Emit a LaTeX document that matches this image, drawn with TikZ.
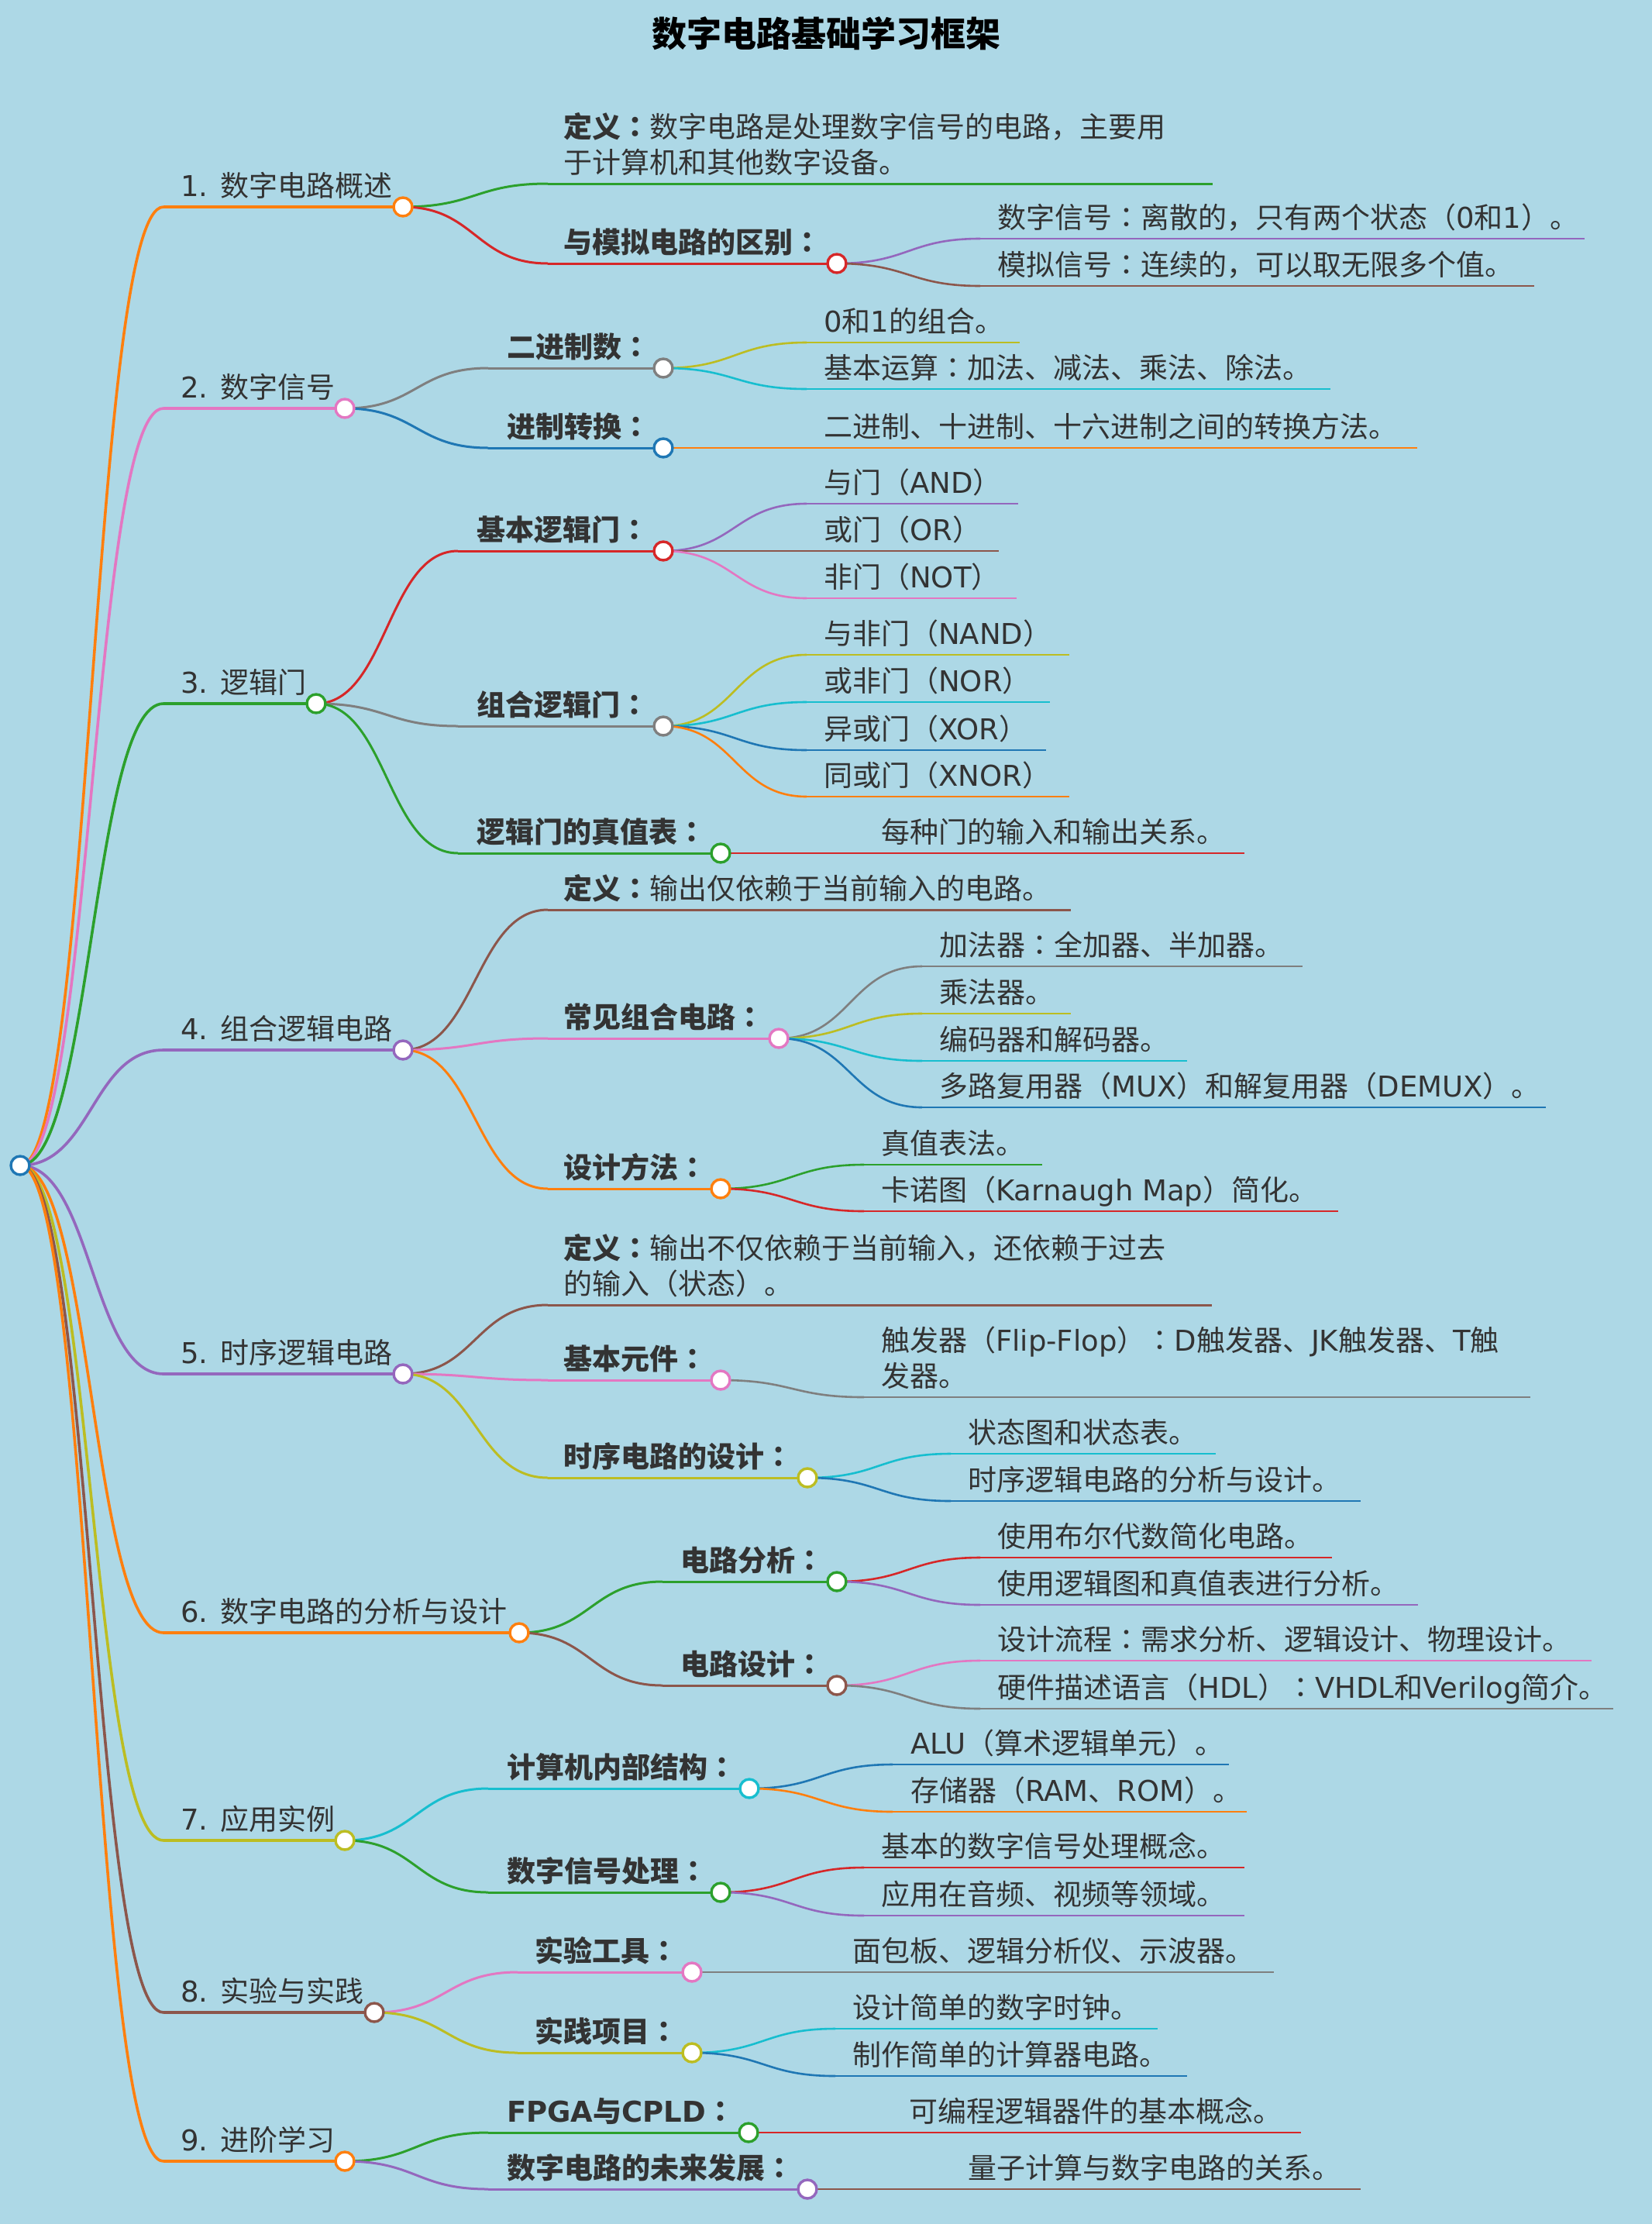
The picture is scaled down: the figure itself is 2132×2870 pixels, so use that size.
\documentclass[tikz,border=0pt]{standalone}
\usepackage{fontspec}
\setmainfont{Noto Sans CJK SC}
\newfontfamily\latf{DejaVu Sans}
\newfontfamily\jpf{Noto Sans CJK JP}
\newcommand\la[1]{{\latf #1}}
\newcommand\co{{\jpf ：}}
\newcommand\fs{\fontsize{37}{46}\selectfont}
\usetikzlibrary{calc}
\definecolor{bgc}{HTML}{ADD8E6}
\definecolor{tc}{HTML}{333333}
\definecolor{tblue}{HTML}{1F77B4}
\definecolor{torange}{HTML}{FF7F0E}
\definecolor{tgreen}{HTML}{2CA02C}
\definecolor{tred}{HTML}{D62728}
\definecolor{tpurple}{HTML}{9467BD}
\definecolor{tbrown}{HTML}{8C564B}
\definecolor{tpink}{HTML}{E377C2}
\definecolor{tgray}{HTML}{7F7F7F}
\definecolor{tolive}{HTML}{BCBD22}
\definecolor{tcyan}{HTML}{17BECF}
\newcommand\sig[3]{\draw[#1] let \p1=(#2), \p2=(#3) in (\p1) .. controls ({0.5*\x1+0.5*\x2},\y1) and ({0.5*\x1+0.5*\x2},\y2) .. (\p2);}
\newcommand\lvl[6]{\coordinate (#3s) at (#4,#5); \coordinate (#3) at (#6,#5); \sig{#1}{#2}{#3s} \draw[#1] (#3s) -- (#3);}
\newcommand\dotat[2]{\node[dot=#2] (#1d) at (#1) {};}
\begin{document}
\begin{tikzpicture}[x=1pt,y=-1pt,
  l1/.style={draw=#1, line width=3.6pt},
  l2/.style={draw=#1, line width=3.0pt},
  l3/.style={draw=#1, line width=2.6pt},
  dot/.style={circle, draw=#1, fill=white, line width=3.4pt, minimum size=24pt, inner sep=0pt},
  txt/.style={text=tc, inner sep=0pt, font=\fs, anchor=base west},
  btxt/.style={text=tc, inner sep=0pt, font=\fs\bfseries, anchor=base west}]
\fill[bgc] (0,0) rectangle (2132,2870);
\useasboundingbox (0,0) rectangle (2132,2870);
\node[font=\bfseries\fontsize{45}{54}\selectfont, text=black, anchor=base, inner sep=0pt] (title) at (1066,60) {数字电路基础学习框架};
\coordinate (R) at (26,1504);
% level 1
\lvl{l1=torange}{R}{n1}{211}{267}{520}
\lvl{l1=tpink}{R}{n2}{211}{527}{445}
\lvl{l1=tgreen}{R}{n3}{211}{908}{408}
\lvl{l1=tpurple}{R}{n4}{211}{1355}{520}
\lvl{l1=tpurple}{R}{n5}{211}{1773}{520}
\lvl{l1=torange}{R}{n6}{211}{2107}{670}
\lvl{l1=tolive}{R}{n7}{211}{2375}{445}
\lvl{l1=tbrown}{R}{n8}{211}{2597}{483}
\lvl{l1=torange}{R}{n9}{211}{2789}{445}
% branch 1
\lvl{l2=tgreen}{n1}{n1a}{707}{237}{1565}
\lvl{l2=tred}{n1}{n1b}{707}{340}{1080}
\lvl{l3=tpurple}{n1b}{n1ba}{1265}{308}{2045}
\lvl{l3=tbrown}{n1b}{n1bb}{1265}{369}{1980}
% branch 2
\lvl{l2=tgray}{n2}{n2a}{630}{475}{856}
\lvl{l3=tolive}{n2a}{n2aa}{1041}{442}{1316}
\lvl{l3=tcyan}{n2a}{n2ab}{1041}{502}{1717}
\lvl{l2=tblue}{n2}{n2b}{630}{578}{856}
\lvl{l3=torange}{n2b}{n2ba}{1041}{578}{1829}
% branch 3
\lvl{l2=tred}{n3}{n3a}{591}{711}{856}
\lvl{l3=tpurple}{n3a}{n3aa}{1041}{650}{1314}
\lvl{l3=tbrown}{n3a}{n3ab}{1041}{711}{1289}
\lvl{l3=tpink}{n3a}{n3ac}{1041}{772}{1312}
\lvl{l2=tgray}{n3}{n3b}{591}{937}{856}
\lvl{l3=tolive}{n3b}{n3ba}{1041}{845}{1380}
\lvl{l3=tcyan}{n3b}{n3bb}{1041}{906}{1355}
\lvl{l3=tblue}{n3b}{n3bc}{1041}{968}{1350}
\lvl{l3=torange}{n3b}{n3bd}{1041}{1028}{1380}
\lvl{l2=tgreen}{n3}{n3c}{591}{1101}{930}
\lvl{l3=tred}{n3c}{n3ca}{1115}{1101}{1606}
% branch 4
\lvl{l2=tbrown}{n4}{n4a}{707}{1174}{1382}
\lvl{l2=tpink}{n4}{n4b}{707}{1340}{1005}
\lvl{l3=tgray}{n4b}{n4ba}{1190}{1247}{1681}
\lvl{l3=tolive}{n4b}{n4bb}{1190}{1308}{1382}
\lvl{l3=tcyan}{n4b}{n4bc}{1190}{1369}{1532}
\lvl{l3=tblue}{n4b}{n4bd}{1190}{1429}{1995}
\lvl{l2=torange}{n4}{n4c}{707}{1534}{930}
\lvl{l3=tgreen}{n4c}{n4ca}{1115}{1503}{1345}
\lvl{l3=tred}{n4c}{n4cb}{1115}{1563}{1727}
% branch 5
\lvl{l2=tbrown}{n5}{n5a}{707}{1684}{1564}
\lvl{l2=tpink}{n5}{n5b}{707}{1781}{930}
\lvl{l3=tgray}{n5b}{n5ba}{1115}{1803}{1975}
\lvl{l2=tolive}{n5}{n5c}{707}{1907}{1042}
\lvl{l3=tcyan}{n5c}{n5ca}{1227}{1876}{1569}
\lvl{l3=tblue}{n5c}{n5cb}{1227}{1937}{1756}
% branch 6
\lvl{l2=tgreen}{n6}{n6a}{855}{2041}{1080}
\lvl{l3=tred}{n6a}{n6aa}{1265}{2010}{1719}
\lvl{l3=tpurple}{n6a}{n6ab}{1265}{2071}{1830}
\lvl{l2=tbrown}{n6}{n6b}{855}{2175}{1080}
\lvl{l3=tpink}{n6b}{n6ba}{1265}{2143}{2054}
\lvl{l3=tgray}{n6b}{n6bb}{1265}{2205}{2082}
% branch 7
\lvl{l2=tcyan}{n7}{n7a}{630}{2308}{967}
\lvl{l3=tblue}{n7a}{n7aa}{1152}{2277}{1586}
\lvl{l3=torange}{n7a}{n7ab}{1152}{2338}{1609}
\lvl{l2=tgreen}{n7}{n7b}{630}{2442}{930}
\lvl{l3=tred}{n7b}{n7ba}{1115}{2410}{1606}
\lvl{l3=tpurple}{n7b}{n7bb}{1115}{2472}{1606}
% branch 8
\lvl{l2=tpink}{n8}{n8a}{668}{2545}{893}
\lvl{l3=tgray}{n8a}{n8aa}{1078}{2545}{1644}
\lvl{l2=tolive}{n8}{n8b}{668}{2649}{893}
\lvl{l3=tcyan}{n8b}{n8ba}{1078}{2618}{1494}
\lvl{l3=tblue}{n8b}{n8bb}{1078}{2679}{1532}
% branch 9
\lvl{l2=tgreen}{n9}{n9a}{630}{2752}{966}
\lvl{l3=tred}{n9a}{n9aa}{1151}{2752}{1679}
\lvl{l2=tpurple}{n9}{n9b}{630}{2825}{1042}
\lvl{l3=tbrown}{n9b}{n9ba}{1227}{2825}{1756}
% circles
\dotat{R}{tblue}
\dotat{n1}{torange}\dotat{n2}{tpink}\dotat{n3}{tgreen}\dotat{n4}{tpurple}\dotat{n5}{tpurple}
\dotat{n6}{torange}\dotat{n7}{tolive}\dotat{n8}{tbrown}\dotat{n9}{torange}
\dotat{n1b}{tred}\dotat{n2a}{tgray}\dotat{n2b}{tblue}
\dotat{n3a}{tred}\dotat{n3b}{tgray}\dotat{n3c}{tgreen}
\dotat{n4b}{tpink}\dotat{n4c}{torange}
\dotat{n5b}{tpink}\dotat{n5c}{tolive}
\dotat{n6a}{tgreen}\dotat{n6b}{tbrown}
\dotat{n7a}{tcyan}\dotat{n7b}{tgreen}
\dotat{n8a}{tpink}\dotat{n8b}{tolive}
\dotat{n9a}{tgreen}\dotat{n9b}{tpurple}
% level 1 texts
\node[txt] (t1) at (233,253) {\la{1. }数字电路概述};
\node[txt] (t2) at (233,513) {\la{2. }数字信号};
\node[txt] (t3) at (233,894) {\la{3. }逻辑门};
\node[txt] (t4) at (233,1341) {\la{4. }组合逻辑电路};
\node[txt] (t5) at (233,1759) {\la{5. }时序逻辑电路};
\node[txt] (t6) at (233,2093) {\la{6. }数字电路的分析与设计};
\node[txt] (t7) at (233,2361) {\la{7. }应用实例};
\node[txt] (t8) at (233,2583) {\la{8. }实验与实践};
\node[txt] (t9) at (233,2775) {\la{9. }进阶学习};
% branch 1 texts
\node[txt] (t1a) at (727,223) {\vbox{\hbox{{\bfseries 定义\co{}}数字电路是处理数字信号的电路，主要用}\hbox{于计算机和其他数字设备。}}};
\node[btxt] (t1b) at (727,326) {与模拟电路的区别\co{}};
\node[txt] (t1ba) at (1287,294) {数字信号\co{}离散的，只有两个状态（\la{0}和\la{1}）。};
\node[txt] (t1bb) at (1287,355) {模拟信号\co{}连续的，可以取无限多个值。};
% branch 2 texts
\node[btxt] (t2a) at (654,461) {二进制数\co{}};
\node[txt] (t2aa) at (1063,428) {\la{0}和\la{1}的组合。};
\node[txt] (t2ab) at (1063,488) {基本运算\co{}加法、减法、乘法、除法。};
\node[btxt] (t2b) at (654,564) {进制转换\co{}};
\node[txt] (t2ba) at (1063,564) {二进制、十进制、十六进制之间的转换方法。};
% branch 3 texts
\node[btxt] (t3a) at (615,697) {基本逻辑门\co{}};
\node[txt] (t3aa) at (1063,636) {与门（\la{AND}）};
\node[txt] (t3ab) at (1063,697) {或门（\la{OR}）};
\node[txt] (t3ac) at (1063,758) {非门（\la{NOT}）};
\node[btxt] (t3b) at (615,923) {组合逻辑门\co{}};
\node[txt] (t3ba) at (1063,831) {与非门（\la{NAND}）};
\node[txt] (t3bb) at (1063,892) {或非门（\la{NOR}）};
\node[txt] (t3bc) at (1063,954) {异或门（\la{XOR}）};
\node[txt] (t3bd) at (1063,1014) {同或门（\la{XNOR}）};
\node[btxt] (t3c) at (615,1087) {逻辑门的真值表\co{}};
\node[txt] (t3ca) at (1137,1087) {每种门的输入和输出关系。};
% branch 4 texts
\node[txt] (t4a) at (727,1160) {{\bfseries 定义\co{}}输出仅依赖于当前输入的电路。};
\node[btxt] (t4b) at (727,1326) {常见组合电路\co{}};
\node[txt] (t4ba) at (1212,1233) {加法器\co{}全加器、半加器。};
\node[txt] (t4bb) at (1212,1294) {乘法器。};
\node[txt] (t4bc) at (1212,1355) {编码器和解码器。};
\node[txt] (t4bd) at (1212,1415) {多路复用器（\la{MUX}）和解复用器（\la{DEMUX}）。};
\node[btxt] (t4c) at (727,1520) {设计方法\co{}};
\node[txt] (t4ca) at (1137,1489) {真值表法。};
\node[txt] (t4cb) at (1137,1549) {卡诺图（\la{Karnaugh Map}）简化。};
% branch 5 texts
\node[txt] (t5a) at (727,1670) {\vbox{\hbox{{\bfseries 定义\co{}}输出不仅依赖于当前输入，还依赖于过去}\hbox{的输入（状态）。}}};
\node[btxt] (t5b) at (727,1767) {基本元件\co{}};
\node[txt] (t5ba) at (1137,1789) {\vbox{\hbox{触发器（\la{Flip-Flop}）\co{}\la{D}触发器、\la{JK}触发器、\la{T}触}\hbox{发器。}}};
\node[btxt] (t5c) at (727,1893) {时序电路的设计\co{}};
\node[txt] (t5ca) at (1249,1862) {状态图和状态表。};
\node[txt] (t5cb) at (1249,1923) {时序逻辑电路的分析与设计。};
% branch 6 texts
\node[btxt] (t6a) at (878,2027) {电路分析\co{}};
\node[txt] (t6aa) at (1287,1996) {使用布尔代数简化电路。};
\node[txt] (t6ab) at (1287,2057) {使用逻辑图和真值表进行分析。};
\node[btxt] (t6b) at (878,2161) {电路设计\co{}};
\node[txt] (t6ba) at (1287,2129) {设计流程\co{}需求分析、逻辑设计、物理设计。};
\node[txt] (t6bb) at (1287,2191) {硬件描述语言（\la{HDL}）\co{}\la{VHDL}和\la{Verilog}简介。};
% branch 7 texts
\node[btxt] (t7a) at (654,2294) {计算机内部结构\co{}};
\node[txt] (t7aa) at (1175,2263) {\la{ALU}（算术逻辑单元）。};
\node[txt] (t7ab) at (1175,2324) {存储器（\la{RAM}、\la{ROM}）。};
\node[btxt] (t7b) at (654,2428) {数字信号处理\co{}};
\node[txt] (t7ba) at (1137,2396) {基本的数字信号处理概念。};
\node[txt] (t7bb) at (1137,2458) {应用在音频、视频等领域。};
% branch 8 texts
\node[btxt] (t8a) at (690,2531) {实验工具\co{}};
\node[txt] (t8aa) at (1100,2531) {面包板、逻辑分析仪、示波器。};
\node[btxt] (t8b) at (690,2635) {实践项目\co{}};
\node[txt] (t8ba) at (1100,2604) {设计简单的数字时钟。};
\node[txt] (t8bb) at (1100,2665) {制作简单的计算器电路。};
% branch 9 texts
\node[btxt] (t9a) at (654,2738) {\la{FPGA}与\la{CPLD}\co{}};
\node[txt] (t9aa) at (1173,2738) {可编程逻辑器件的基本概念。};
\node[btxt] (t9b) at (654,2811) {数字电路的未来发展\co{}};
\node[txt] (t9ba) at (1249,2811) {量子计算与数字电路的关系。};
\end{tikzpicture}
\end{document}
